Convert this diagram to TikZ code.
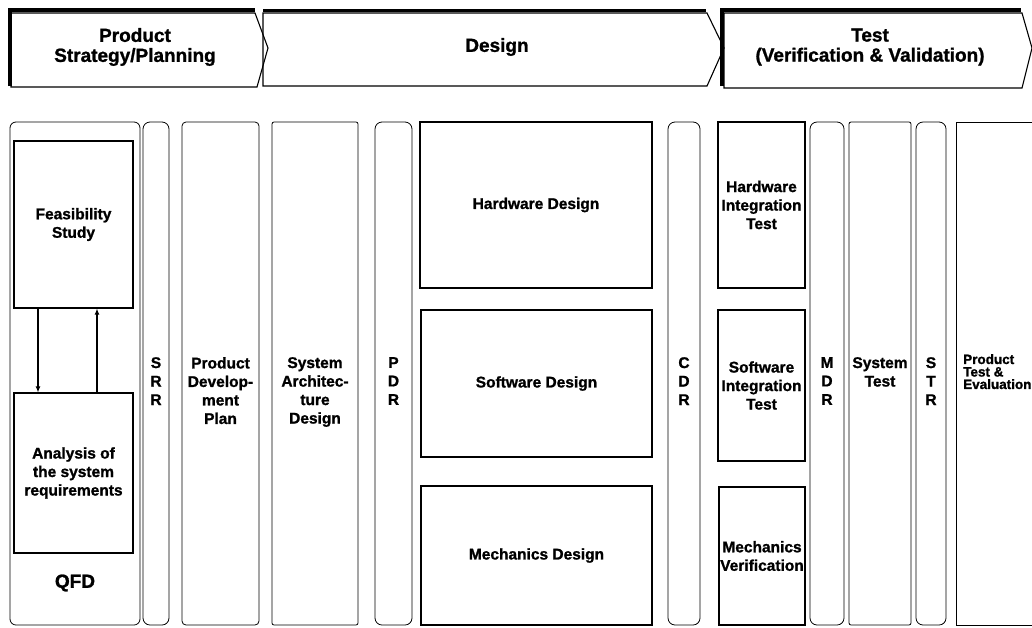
\documentclass[tikz,border=0pt]{standalone}
\usepackage{fontspec}
\setmainfont{Liberation Sans}[BoldFeatures={FakeBold=1.2}]
\usetikzlibrary{arrows.meta}

\begin{document}
\begin{tikzpicture}[x=1pt,y=-1pt,
    phase/.style={draw,line width=1.1pt,line join=miter},
    phaserim/.style={line width=3.2pt},
    phasetxt/.style={font=\fontsize{19}{20}\selectfont\bfseries,align=center},
    stage/.style={draw,line width=0.8pt,inner sep=0pt,minimum height=503pt,rounded corners=2pt},
    review/.style={stage,rounded corners=7pt},
    task/.style={draw,line width=1.2pt,inner sep=0pt,align=center,font=\fontsize{15.5}{18.5}\selectfont\bfseries},
    coltxt/.style={anchor=north,inner sep=0pt,align=center,font=\fontsize{15.5}{18.5}\selectfont\bfseries},
    flow/.style={line width=1.1pt,-{Latex[length=6pt,width=5pt]}}]

  \fill[white] (0,0) rectangle (1032,627);
  \useasboundingbox (0,0) rectangle (1032,627);

  % Phase arrows along the top
  \draw[phase] (11,13) -- (255,13) -- (268,48) -- (257,87) -- (11,87) -- cycle;
  \draw[phaserim] (10,86) |- (255,10);
  \draw[phase] (263,13) -- (707,13) -- (724,48) -- (707,86) -- (263,86) -- cycle;
  \draw[phaserim] (263,10.5) -- (706,10.5);
  \draw[phase] (724,13) -- (1022,13) -- (1032,48) -- (1022,88) -- (724,88) -- cycle;
  \draw[phaserim] (722,86) |- (1021,10);

  \node[phasetxt] (plan) at (135,47) {Product\\Strategy/Planning};
  \node[phasetxt] (design) at (497,47) {Design};
  \node[phasetxt] (test) at (870,47) {Test\\(Verification \& Validation)};

  % Columns and review bars
  \node[stage,rounded corners=6pt,minimum width=130pt] (qfd) at (75,373.5) {};
  \node[review,minimum width=26pt] (srr) at (156,373.5) {};
  \node[stage,rounded corners=4pt,minimum width=77pt] (pdp) at (220.5,373.5) {};
  \node[stage,minimum width=86pt] (sad) at (315,373.5) {};
  \node[review,minimum width=37pt] (pdr) at (393.5,373.5) {};
  \node[review,minimum width=32pt] (cdr) at (684,373.5) {};
  \node[review,minimum width=34pt] (mdr) at (827,373.5) {};
  \node[stage,minimum width=62pt] (syst) at (880,373.5) {};
  \node[review,minimum width=30pt] (str) at (931,373.5) {};
  \node[stage,rounded corners=0pt,minimum width=90pt] (pte) at (1001,373.5) {};

  % Column labels, all starting on the same line
  \foreach \c/\t in {srr/{S\\R\\R}, pdp/{Product\\Develop-\\ment\\Plan},
      sad/{System\\Architec-\\ture\\Design}, pdr/{P\\D\\R}, cdr/{C\\D\\R},
      mdr/{M\\D\\R}, syst/{System\\Test}, str/{S\\T\\R}}
    \node[coltxt] (\c-lbl) at (\c.center |- 0,357) {\t};
  \node[coltxt,anchor=north west,align=left,font=\fontsize{13.5}{12.5}\selectfont\bfseries]
    (pte-lbl) at (963,354) {Product\\Test \&\\Evaluation};

  % QFD: feasibility and requirements analysis
  \node[task,minimum width=119pt,minimum height=167pt] (feas) at (73.5,224.5) {Feasibility\\Study};
  \node[task,minimum width=119pt,minimum height=160pt] (anal) at (73.5,473) {Analysis of\\the system\\requirements};
  \node[font=\fontsize{19}{20}\selectfont\bfseries] (qfd-lbl) at (75,583) {QFD};
  \draw[flow] ([xshift=-35.5pt]feas.south) -- ([xshift=-35.5pt]anal.north);
  \draw[flow] ([xshift=23.5pt]anal.north) -- ([xshift=23.5pt]feas.south);

  % Design blocks
  \node[task,minimum width=232pt,minimum height=166pt] (hwd) at (536,205) {Hardware Design};
  \node[task,minimum width=231pt,minimum height=147pt] (swd) at (536.5,383.5) {Software Design};
  \node[task,minimum width=231pt,minimum height=139pt] (mcd) at (536.5,555.5) {Mechanics Design};

  % Integration and verification blocks
  \node[task,minimum width=87pt,minimum height=166pt] (hwit) at (761.5,205) {Hardware\\Integration\\Test};
  \node[task,minimum width=87pt,minimum height=151pt] (swit) at (761.5,385.5) {Software\\Integration\\Test};
  \node[task,minimum width=86pt,minimum height=138pt] (mcv) at (762,556) {Mechanics\\Verification};
\end{tikzpicture}
\end{document}
